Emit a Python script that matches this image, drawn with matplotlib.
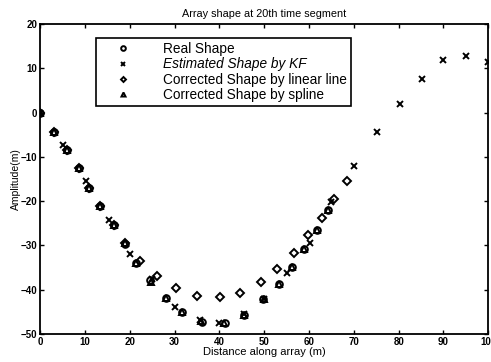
import matplotlib
matplotlib.use("Agg")
import matplotlib.pyplot as plt

plt.rcParams['font.family'] = ['Liberation Sans', 'DejaVu Sans']

# real shape (circles)
real_x = [0, 3.2, 6.0, 8.6, 11.0, 13.4, 16.4, 19.0, 21.5, 24.6, 28.0,
          31.7, 36.2, 41.2, 45.6, 49.7, 53.2, 56.2, 58.8, 61.7, 64.3]
real_y = [0, -4.3, -8.5, -12.5, -17.0, -21.2, -25.4, -29.7, -33.9, -37.8, -41.8,
          -44.9, -47.2, -47.4, -45.6, -42.1, -38.7, -34.9, -30.9, -26.5, -22.1]

# estimated shape by KF (crosses)
kf_x = [0, 5.2, 10.3, 15.3, 20.1, 25.0, 30.2, 35.6, 39.9, 45.5, 50.0,
        55.0, 60.2, 65.0, 70.1, 75.2, 80.3, 85.1, 90.0, 95.1, 99.9]
kf_y = [0, -7.4, -15.5, -24.2, -31.9, -37.5, -43.9, -46.7, -47.6, -45.5, -42.0,
        -36.3, -29.4, -20.3, -12.1, -4.4, 1.9, 7.5, 11.9, 12.7, 11.5]

# corrected by linear line (diamonds)
lin_x = [0, 3.2, 6.0, 8.6, 11.0, 13.4, 16.4, 19.0, 22.2, 26.0, 30.4,
         35.1, 40.1, 44.7, 49.2, 52.9, 56.7, 59.7, 62.8, 65.6, 68.5]
lin_y = [0, -4.3, -8.5, -12.5, -17.0, -21.2, -25.4, -29.5, -33.4, -36.8, -39.7,
         -41.3, -41.7, -40.7, -38.3, -35.4, -31.8, -27.7, -23.8, -19.5, -15.5]

# corrected by spline (triangles)
spl_x = [0, 3.2, 6.0, 8.6, 11.0, 13.4, 16.4, 19.0, 21.5, 24.8, 28.0,
         31.7, 36.0, 41.0, 45.6, 49.9, 53.2, 56.2, 58.8, 61.7, 64.3]
spl_y = [0, -4.3, -8.5, -12.5, -17.0, -21.0, -25.4, -29.5, -33.9, -38.3, -41.8,
         -44.9, -47.0, -47.4, -45.6, -42.0, -38.7, -34.9, -30.9, -26.5, -22.1]

fig = plt.figure(figsize=(4.91, 3.62), dpi=100)
ax = fig.add_axes([0.0815, 0.077, 0.913, 0.857])

mk = dict(linestyle='none', color='black', markerfacecolor='none', markeredgewidth=1.4)
ax.plot(real_x, real_y, marker='o', markersize=4.8, label='Real Shape', **mk)
ax.plot(kf_x, kf_y, marker='x', markersize=4, label='Estimated Shape by KF', **mk)
ax.plot(lin_x, lin_y, marker='D', markersize=3.6, label='Corrected Shape by linear line', **mk)
ax.plot(spl_x, spl_y, marker='^', markersize=4.2, label='Corrected Shape by spline', **mk)

ax.set_xlim(0, 100)
ax.set_ylim(-50, 20)
ax.set_xticks(range(0, 101, 10))
ax.set_yticks(range(-50, 21, 10))
ax.tick_params(direction='in', top=True, right=True, length=3, width=1, labelsize=7, pad=2)
for lab in ax.get_xticklabels() + ax.get_yticklabels():
    lab.set_fontweight('bold')
for s in ax.spines.values():
    s.set_linewidth(1.3)

ax.set_title('Array shape at 20th time segment', fontsize=7.8, pad=5)
ax.set_xlabel('Distance along array (m)', fontsize=8, labelpad=0)
ax.set_ylabel('Amplitude(m)', fontsize=7.5, labelpad=0)

leg = ax.legend(loc='upper left', bbox_to_anchor=(0.125, 0.955), fontsize=9.8,
                frameon=True, fancybox=False, edgecolor='black', framealpha=1,
                handlelength=3.3, handletextpad=1.3, borderpad=0.3, labelspacing=0.1,
                markerscale=0.7, borderaxespad=0)
leg.get_frame().set_linewidth(1.2)
leg.get_texts()[1].set_fontstyle('italic')

fig.savefig('out.png', dpi=100)
